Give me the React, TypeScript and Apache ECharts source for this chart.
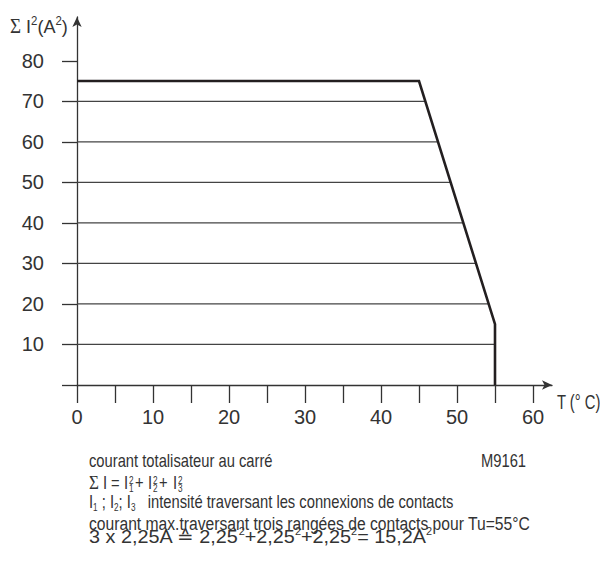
import React, { useEffect, useRef } from "react";
import * as echarts from "echarts";

const FONT = "'Liberation Sans', Arial, sans-serif";
const TEXT = "#333";
const SX = 0.82; // horizontal condensing of the note texts

// Derating curve: temperature T (°C) vs sum of I² (A²)
const curveT = [0, 45, 55, 55];
const curveI2 = [75, 75, 15, 0];

// Horizontal reference lines, each ending where it meets the curve
const gridLevels = [10, 20, 30, 40, 50, 60, 70];
const gridEnds = [55, 54.2, 52.5, 50.8, 49.2, 47.5, 45.8];

const xTicks = [0, 5, 10, 15, 20, 25, 30, 35, 40, 45, 50, 55, 60];
const xLabels = [0, 10, 20, 30, 40, 50, 60];
const yTicks = [0, 10, 20, 30, 40, 50, 60, 70, 80];
const yLabels = [10, 20, 30, 40, 50, 60, 70, 80];

function txt(x: number, baseline: number, text: string, size: number, extra: any = {}, sx = SX) {
  return {
    type: "text",
    x,
    y: baseline - 0.3465 * size,
    scaleX: sx,
    silent: true,
    style: {
      text,
      fontSize: size,
      fontFamily: FONT,
      fill: TEXT,
      align: "left",
      verticalAlign: "middle",
      ...extra,
    },
  };
}

function richTxt(x: number, baseline: number, text: string, size: number, lineHeight: number, rich: any, sx = SX) {
  return {
    type: "text",
    x,
    y: baseline - 0.3465 * size,
    scaleX: sx,
    silent: true,
    style: {
      text,
      fontSize: size,
      fontFamily: FONT,
      fill: TEXT,
      align: "left",
      verticalAlign: "middle",
      lineHeight,
      rich,
    },
  };
}

export default function App() {
  const ref = useRef<HTMLDivElement>(null);

  useEffect(() => {
    if (!ref.current) return;
    const chart = echarts.init(ref.current, undefined, { renderer: "svg" });

    const axisLineStyle = { color: "#333", width: 1.3 };

    const gridSeries = gridLevels.map((lvl, i) => ({
      type: "line",
      data: [
        [0, lvl],
        [gridEnds[i], lvl],
      ],
      symbol: "none",
      silent: true,
      lineStyle: { color: "#444", width: 1.3 },
      z: 2,
    }));

    const sup = { fontSize: 10, fontFamily: FONT, fill: TEXT, verticalAlign: "top", lineHeight: 10 };
    const sub = { fontSize: 10, fontFamily: FONT, fill: TEXT, verticalAlign: "bottom", lineHeight: 10 };

    const L = 89; // left edge of the note block

    const option: any = {
      animation: false,
      grid: { left: 77, top: 17, width: 475, height: 368, containLabel: false, outerBoundsMode: "none" },
      xAxis: {
        type: "value",
        min: 0,
        max: 62.5,
        axisLine: {
          show: true,
          onZero: false,
          symbol: ["none", "arrow"],
          symbolSize: [7, 10],
          lineStyle: axisLineStyle,
        },
        axisTick: { show: true, inside: false, length: 18, customValues: xTicks, lineStyle: axisLineStyle },
        axisLabel: {
          customValues: xLabels,
          margin: 22,
          fontSize: 20,
          fontFamily: FONT,
          color: TEXT,
        },
        splitLine: { show: false },
      },
      yAxis: {
        type: "value",
        min: 0,
        max: 90.8,
        axisLine: {
          show: true,
          onZero: false,
          symbol: ["none", "arrow"],
          symbolSize: [7, 10],
          lineStyle: axisLineStyle,
        },
        axisTick: { show: true, inside: false, length: 15, customValues: yTicks, lineStyle: axisLineStyle },
        axisLabel: {
          customValues: yLabels,
          margin: 33,
          fontSize: 20,
          fontFamily: FONT,
          color: TEXT,
        },
        splitLine: { show: false },
      },
      series: [
        ...gridSeries,
        {
          type: "line",
          data: curveT.map((t, i) => [t, curveI2[i]]),
          symbol: "none",
          silent: true,
          lineStyle: { color: "#231f20", width: 2.6, join: "miter" },
          z: 3,
        },
      ],
      graphic: [
        // y-axis name
        richTxt(10, 33, "{s|Σ} I{p|2}(A{p|2})", 19, 24, {
          s: { fontSize: 20, fontFamily: "'Liberation Serif', serif", fill: TEXT },
          p: { fontSize: 12, fontFamily: FONT, fill: TEXT, verticalAlign: "top", lineHeight: 12 },
        }, 0.95),
        // x-axis name
        txt(557, 409, "T (° C)", 20, {}, 0.74),
        // notes
        txt(L, 467, "courant totalisateur au carré", 18),
        txt(481, 467, "M9161", 18),
        // line 2: Σ I = I1² + I2² + I3²
        txt(L, 489, "Σ", 18, { fontFamily: "'Liberation Serif', serif" }, 0.95),
        txt(L + 14, 489, "I", 18),
        txt(L + 22, 489, "=", 18),
        txt(L + 35, 489, "I", 18),
        txt(L + 40, 484, "2", 10),
        txt(L + 40, 492, "1", 10),
        txt(L + 46, 489, "+", 18),
        txt(L + 59, 489, "I", 18),
        txt(L + 64, 484, "2", 10),
        txt(L + 64, 492, "2", 10),
        txt(L + 70, 489, "+", 18),
        txt(L + 84, 489, "I", 18),
        txt(L + 89, 484, "2", 10),
        txt(L + 89, 492, "3", 10),
        // line 3
        richTxt(L, 508, "I{b|1} ; I{b|2}; I{b|3}   intensité traversant les connexions de contacts", 18, 22, {
          b: sub,
        }),
        // line 4
        txt(L, 530, "courant max.traversant trois rangées de contacts pour Tu=55°C", 18, {}, 0.87),
        // line 5
        richTxt(L, 543, "3 x 2,25A ≙ 2,25{p|2}+2,25{p|2}+2,25{p|2}= 15,2A{p|2}", 18, 22, {
          p: sup,
        }, 1.1),
      ],
    };

    chart.setOption(option);
    return () => chart.dispose();
  }, []);

  return (
    <div
      ref={ref}
      style={{ position: "fixed", left: 0, top: 0, width: 600, height: 579, background: "#fff" }}
    />
  );
}
